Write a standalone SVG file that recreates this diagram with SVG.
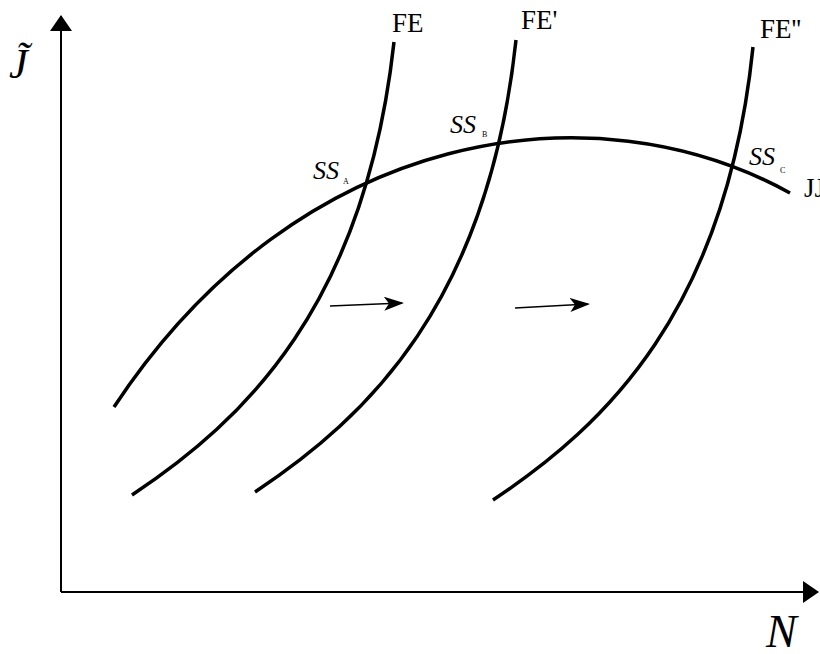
<svg xmlns="http://www.w3.org/2000/svg" width="820" height="654" viewBox="0 0 820 654">
<style>
.c{fill:none;stroke:#000;stroke-width:3.5}
.ax{fill:none;stroke:#000;stroke-width:2}
.ar{fill:none;stroke:#000;stroke-width:1.5}
.t{font-family:"Liberation Serif","DejaVu Serif",serif;fill:#000}
.i{font-style:italic}
.ss{font-family:"Liberation Serif","DejaVu Serif",serif;font-style:italic;font-size:26px}
.sub{font-family:"Liberation Serif","DejaVu Serif",serif;font-size:8px}
.fe{font-family:"Liberation Serif","DejaVu Serif",serif;font-size:27px}
</style>
<defs>
<marker id="ah" viewBox="0 0 20 14" refX="18" refY="7" markerWidth="20" markerHeight="14" markerUnits="userSpaceOnUse" orient="auto">
<path d="M0,0 L20,7 L0,14 L5,7 Z" fill="#000"/>
</marker>
<marker id="axh" viewBox="0 0 16 22" refX="15" refY="11" markerWidth="16" markerHeight="22" markerUnits="userSpaceOnUse" orient="auto">
<path d="M0,0 L16,11 L0,22 Z" fill="#000"/>
</marker>
</defs>
<g id="axes">
<path class="ax" d="M61,592 L61,16" marker-end="url(#axh)"/>
<path class="ax" d="M61,592 L818,592" marker-end="url(#axh)"/>
<text class="t i" x="9" y="78" font-size="42">J&#x303;</text>
<text class="t i" x="766" y="647" font-size="46">N</text>
</g>
<g id="connectors">
<path class="c" id="FE" d="M132,495 C245,420 365,305 394,42"/>
<path class="c" id="FE1" d="M255,492 C368,417 488,302 516,40"/>
<path class="c" id="FE2" d="M493,500 C606,425 726,310 753,47"/>
<path class="c" id="JJ" d="M114,407 C300,125 595,85 790,193"/>
<path class="ar" d="M330,306 L402,303" marker-end="url(#ah)"/>
<path class="ar" d="M515,308 L588,304" marker-end="url(#ah)"/>
</g>
<g id="labels">
<text class="fe" x="392" y="32">FE</text>
<text class="fe" x="521" y="29">FE'</text>
<text class="fe" x="760" y="38">FE''</text>
<text class="fe" x="804" y="197">JJ</text>
<text class="ss" x="313" y="179">SS</text>
<text class="sub" x="343" y="184">A</text>
<text class="ss" x="450" y="133">SS</text>
<text class="sub" x="482" y="137">B</text>
<text class="ss" x="749" y="165">SS</text>
<text class="sub" x="780" y="173">C</text>
</g>
</svg>
